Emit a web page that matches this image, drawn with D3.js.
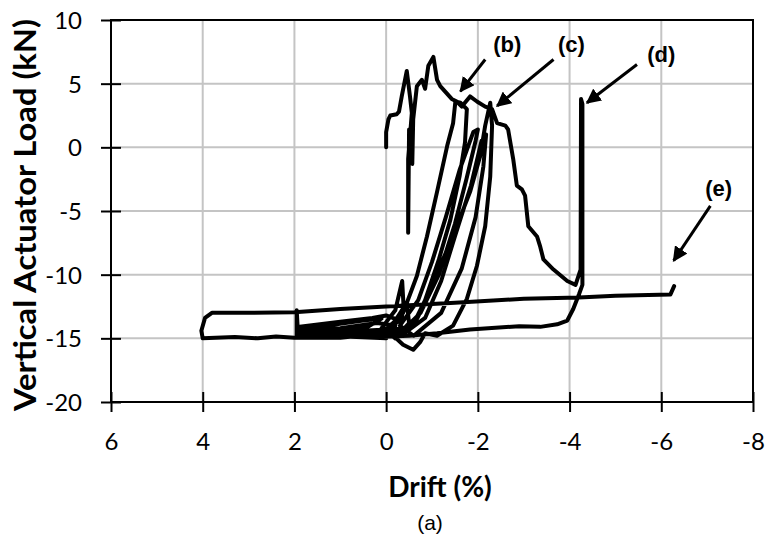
<!DOCTYPE html>
<html>
<head>
<meta charset="utf-8">
<script src="https://cdn.jsdelivr.net/npm/d3@7"></script>
<style>
  body { margin: 0; background: #fff; }
  svg { display: block; }
</style>
</head>
<body>
<div id="app"></div>
<script>
// axis ticks
var xTicks = [6, 4, 2, 0, -2, -4, -6, -8];
var yTicks = [10, 5, 0, -5, -10, -15, -20];

// drift (%), load (kN), in test order
var firstPush = [[0,0],[0,1.2],[-0.05,2.2],[-0.09,2.5],[-0.23,2.6],[-0.28,2.8],[-0.34,4.0],[-0.45,6.0],
  [-0.52,4.0],[-0.56,2.7],[-0.48,-0.9],[-0.48,-6.7],[-0.5,1.4],[-0.57,-1.3],[-0.59,2.2],[-0.67,4.8],
  [-0.78,5.3],[-0.85,4.6],[-0.92,6.4],[-1.03,7.1],[-1.11,5.3],[-1.18,4.8],[-1.43,3.8],[-1.54,3.6],
  [-1.65,3.2],[-1.83,4.0],[-1.98,3.6],[-2.16,3.2],[-2.31,3.0],[-2.42,1.9],[-2.6,1.7],[-2.66,1.4],
  [-2.77,-0.9],[-2.85,-3.0],[-2.96,-3.3],[-3.03,-3.8],[-3.1,-6.2],[-3.29,-7.0],[-3.36,-7.8],
  [-3.43,-8.8],[-3.65,-9.6],[-3.95,-10.5],[-4.13,-10.8]];
var cycleD = [[-4.24,-9.6],[-4.25,3.8],[-4.28,3.4],[-4.28,-10.8],[-4.21,-11.5],[-4.08,-12.7],[-3.95,-13.6],
  [-3.73,-13.9],[-3.36,-14.1],[-2.9,-14.05],[-1.83,-14.3],[-1.11,-14.6],[-0.5,-14.8],[0.2,-14.9]];
var smallLoop = [[0.1,-14.2],[-0.2,-12.8],[-0.35,-10.5],[-0.38,-12.5],[-0.3,-14.3],[0,-14.7],
  [-0.2,-13.6],[-0.45,-12.2],[-0.5,-13.8],[-0.2,-15.0],[0.05,-14.3]];
var loopB = [[-0.55,-14.2],[-0.85,-12],[-1.15,-8.8],[-1.4,-5.7],[-1.6,-2.3],[-1.72,0.4],[-1.76,3.0],
  [-1.62,3.5],[-1.51,3.6],[-1.46,1.9],[-1.33,0.1],[-1.11,-3.5],[-0.89,-7.0],[-0.67,-10.1],
  [-0.37,-13.0],[-0.09,-14.0]];
var loopM1 = [[-0.3,-14.6],[-0.75,-13],[-1.15,-10],[-1.5,-6],[-1.75,-2.5],[-1.95,0.5],[-2.0,1.4],
  [-1.9,1.2],[-1.6,-1.8],[-1.3,-5.5],[-1.0,-9],[-0.7,-12],[-0.3,-14]];
var loopM2 = [[-0.6,-14.8],[-1.2,-13],[-1.65,-9.5],[-1.95,-5.5],[-2.12,-1.5],[-2.18,1.0],
  [-2.08,0.5],[-1.85,-3],[-1.5,-7],[-1.2,-10.5],[-0.85,-13.4],[-0.4,-14.6]];
var loopC = [[-0.1,-14.6],[-0.37,-15.5],[-0.59,-15.9],[-0.74,-15.3],[-0.85,-14.6],[-1.11,-14.8],
  [-1.46,-14.0],[-1.76,-11.9],[-1.98,-9.3],[-2.16,-6.2],[-2.27,-2.3],[-2.31,1.7],[-2.27,3.5],
  [-2.16,1.7],[-2.05,-0.7],[-1.83,-3.5],[-1.54,-6.2],[-1.24,-8.8],[-0.96,-11.4],[-0.67,-13.5],
  [-0.31,-14.5]];
var cyclePos2 = [[0.1,-14.7],[1.0,-14.9],[1.95,-14.95],[1.95,-12.8],[1.93,-14.1],[1.0,-13.7],
  [0.3,-13.4],[0,-13.2],[-0.3,-13.6],[0,-14.3],[1.0,-14.5],[1.93,-14.4],[1.0,-14.2],[0.2,-13.8],
  [-0.2,-14.0],[0.3,-14.6],[1.0,-14.75],[1.93,-14.7],[0.9,-14.85],[0,-15.0],[0.5,-14.35],
  [1.4,-14.3],[1.93,-14.25],[1.2,-13.95],[0.5,-13.6],[0.1,-13.45],[0.4,-14.1],[1.3,-14.55],
  [1.93,-14.55],[0.7,-14.4],[-0.1,-14.55]];
var lastCycle = [[1.0,-14.95],[2.0,-14.95],[2.4,-14.85],[2.8,-15.0],[3.3,-14.9],[4.0,-15.0],[4.03,-14.4],
  [3.95,-13.4],[3.8,-13.0],[3.0,-13.0],[2.0,-12.95],[1.0,-12.7],[0,-12.5],[-1.5,-12.2],[-3,-11.9],
  [-4.2,-11.8],[-5,-11.65],[-6.2,-11.55],[-6.28,-10.9]];

// annotation arrows: label, label pos, arrow start, arrow tip
var noteLabels = ['(b)', '(c)', '(d)', '(e)'];
var notePos = [[-2.64,7.5],[-4.04,7.5],[-6.0,6.7],[-7.25,-3.85]];
var arrowFrom = [[-2.16,6.9],[-3.65,6.9],[-5.47,6.5],[-7.07,-4.6]];
var arrowTo = [[-1.62,4.4],[-2.42,3.25],[-4.38,3.5],[-6.27,-8.9]];

var W = 770, H = 543;
var plotL = 111, plotR = 753, plotT = 20, plotB = 402;

var svg = d3.select('#app').append('svg').attr('width', W).attr('height', H);

var x = d3.scaleLinear().domain([6, -8]).range([plotL, plotR]);
var y = d3.scaleLinear().domain([-20, 10]).range([plotB, plotT]);
var fmt = function(d) { return String(d); };

// grid
svg.append('g').selectAll('line').data(xTicks).enter().append('line')
  .attr('x1', function(d) { return x(d); }).attr('x2', function(d) { return x(d); })
  .attr('y1', plotT).attr('y2', plotB)
  .attr('stroke', '#c4c4c4').attr('stroke-width', 2);
svg.append('g').selectAll('line').data(yTicks).enter().append('line')
  .attr('y1', function(d) { return y(d); }).attr('y2', function(d) { return y(d); })
  .attr('x1', plotL).attr('x2', plotR)
  .attr('stroke', '#c4c4c4').attr('stroke-width', 2);

// axes with crossing ticks
var xAxis = svg.append('g').attr('transform', 'translate(0,' + plotB + ')')
  .call(d3.axisBottom(x).tickValues(xTicks).tickSize(10).tickSizeOuter(0).tickFormat(fmt));
var yAxis = svg.append('g').attr('transform', 'translate(' + plotL + ',0)')
  .call(d3.axisLeft(y).tickValues(yTicks).tickSize(10).tickSizeOuter(0).tickFormat(fmt));

[xAxis, yAxis].forEach(function(g) {
  g.select('.domain').remove();
  g.selectAll('.tick line').attr('stroke', '#000').attr('stroke-width', 2);
  g.selectAll('.tick text').attr('fill', '#000')
    .style('font-family', 'Lato, "Open Sans", sans-serif').style('font-size', '24px');
});
xAxis.selectAll('.tick line').attr('y1', -10);
xAxis.selectAll('.tick text').attr('y', 48).attr('dy', 0);
yAxis.selectAll('.tick line').attr('x1', 10);
yAxis.selectAll('.tick text').attr('x', -29).attr('dy', '0.36em');

// plot frame
svg.append('rect').attr('x', plotL).attr('y', plotT)
  .attr('width', plotR - plotL).attr('height', plotB - plotT)
  .attr('fill', 'none').attr('stroke', '#000').attr('stroke-width', 2);

// the load-drift curve
var path = [].concat(firstPush, cycleD, smallLoop, loopB, loopM1, loopM2, loopC, cyclePos2, lastCycle);
var line = d3.line().x(function(d) { return x(d[0]); }).y(function(d) { return y(d[1]); });
svg.append('path').datum(path).attr('d', line)
  .attr('fill', 'none').attr('stroke', '#000').attr('stroke-width', 4)
  .attr('stroke-linejoin', 'round').attr('stroke-linecap', 'round');

// arrows
svg.append('defs').append('marker').attr('id', 'head')
  .attr('viewBox', '0 0 10 10').attr('refX', 9).attr('refY', 5)
  .attr('markerWidth', 5).attr('markerHeight', 5).attr('markerUnits', 'strokeWidth')
  .attr('orient', 'auto')
  .append('path').attr('d', 'M0,0L10,5L0,10z').attr('fill', '#000');

svg.append('g').selectAll('line').data(arrowFrom).enter().append('line')
  .attr('x1', function(d) { return x(d[0]); }).attr('y1', function(d) { return y(d[1]); })
  .attr('x2', function(d, i) { return x(arrowTo[i][0]); }).attr('y2', function(d, i) { return y(arrowTo[i][1]); })
  .attr('stroke', '#000').attr('stroke-width', 3).attr('marker-end', 'url(#head)');

svg.append('g').selectAll('text').data(noteLabels).enter().append('text')
  .attr('x', function(d, i) { return x(notePos[i][0]); })
  .attr('y', function(d, i) { return y(notePos[i][1]); })
  .attr('text-anchor', 'middle')
  .style('font-family', '"Liberation Sans", Arial, sans-serif').style('font-weight', 'bold')
  .style('font-size', '22px')
  .text(function(d) { return d; });

// titles
svg.append('text').attr('transform', 'translate(36,215) rotate(-90)')
  .attr('text-anchor', 'middle')
  .attr('textLength', 392).attr('lengthAdjust', 'spacingAndGlyphs')
  .style('font-family', 'Lato, "Open Sans", sans-serif').style('font-weight', 'bold').style('font-size', '31px')
  .text('Vertical Actuator Load (kN)');

svg.append('text').attr('x', 440).attr('y', 497).attr('text-anchor', 'middle')
  .style('font-family', 'Lato, "Open Sans", sans-serif').style('font-weight', 'bold').style('font-size', '28px')
  .text('Drift (%)');

svg.append('text').attr('x', 430).attr('y', 530).attr('text-anchor', 'middle')
  .style('font-family', '"Liberation Sans", Arial, sans-serif').style('font-size', '21px')
  .text('(a)');
</script>
</body>
</html>
